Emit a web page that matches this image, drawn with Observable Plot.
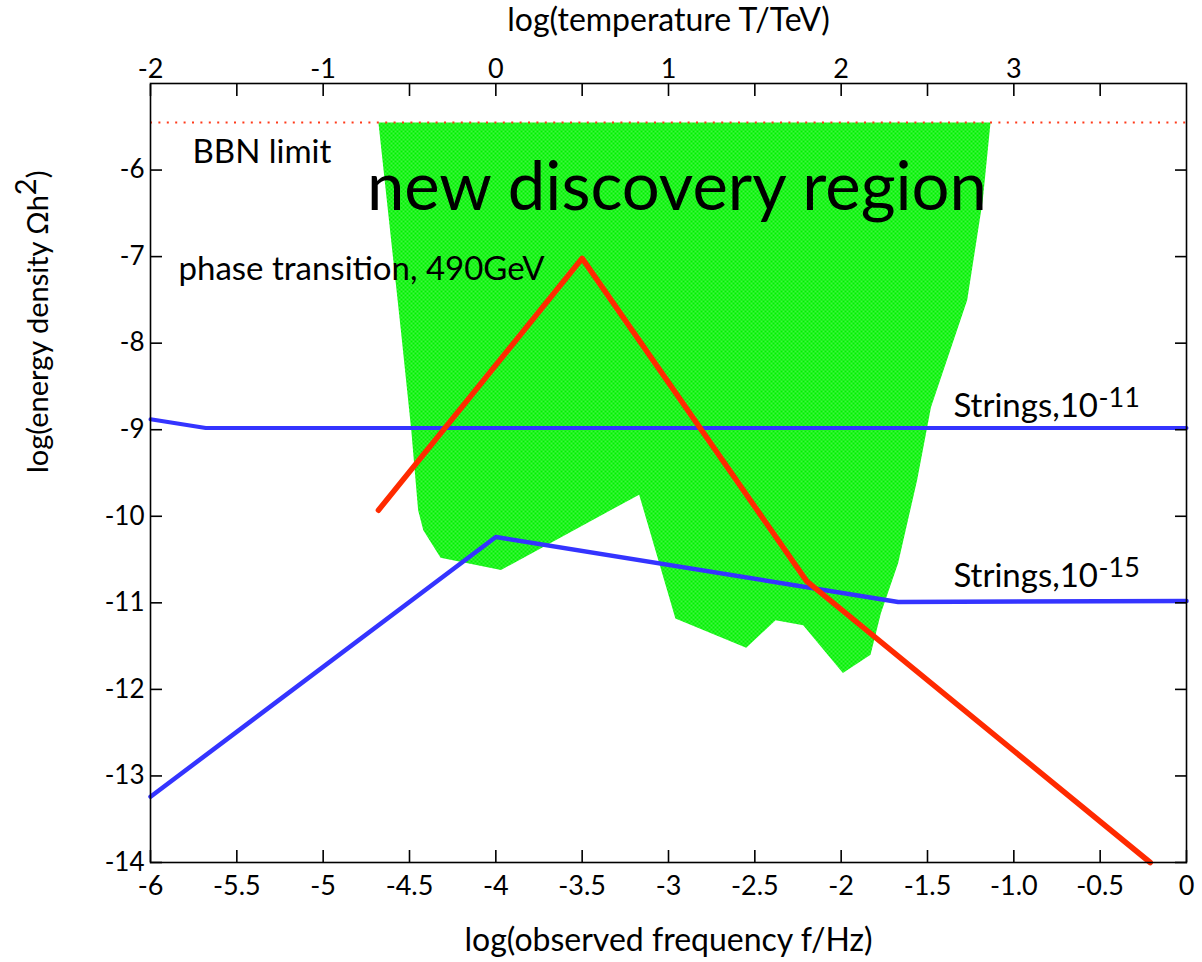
<!DOCTYPE html>
<html><head><meta charset="utf-8">
<script src="https://cdn.jsdelivr.net/npm/d3@7"></script>
<script src="https://cdn.jsdelivr.net/npm/@observablehq/plot@0.6"></script>
<style>
body{margin:0;background:#fff;}
#chart svg{display:block;}
</style>
</head><body><div id="chart"></div>
<script>
// ---- tick positions & labels ----
const freqTicks = [-6, -5.5, -5, -4.5, -4, -3.5, -3, -2.5, -2, -1.5, -1, -0.5, 0];
const freqTickLabels = ["-6", "-5.5", "-5", "-4.5", "-4", "-3.5", "-3", "-2.5", "-2", "-1.5", "-1.0", "-0.5", "0"];
const energyTicks = [-6, -7, -8, -9, -10, -11, -12, -13, -14];
const tempTicks = [-2, -1.5, -1, -0.5, 0, 0.5, 1, 1.5, 2, 2.5, 3, 3.5];
const tempTickLabels = ["-2", "", "-1", "", "0", "", "1", "", "2", "", "3", ""];
const tempOffset = 4; // log(T/TeV) = log(f/Hz) + 4 on this figure

// ---- series ----
const bbnLimit = -5.45;
const discoveryF = [-4.68, -4.55, -4.49, -4.45, -4.42, -4.32, -3.97, -3.17, -2.96, -2.55, -2.38, -2.22, -1.99, -1.83, -1.77, -1.67, -1.56, -1.48, -1.27, -1.18, -1.135];
const discoveryOmega = [-5.45, -7.85, -9.0, -9.93, -10.16, -10.48, -10.62, -9.75, -11.18, -11.52, -11.2, -11.26, -11.81, -11.6, -11.12, -10.54, -9.58, -8.74, -7.5, -6.35, -5.45];
const phaseF = [-4.68, -3.5, -2.2, -0.21];
const phaseOmega = [-9.93, -7.02, -10.75, -14];
const strings11F = [-6, -5.68, 0];
const strings11Omega = [-8.88, -8.98, -8.98];
const strings15F = [-6, -4.0, -1.67, 0];
const strings15Omega = [-13.24, -10.24, -10.99, -10.98];

const zipPts = (xs, ys) => xs.map((x, i) => ({x, y: ys[i]}));
const discovery = zipPts(discoveryF, discoveryOmega);
const phase = zipPts(phaseF, phaseOmega);
const s11 = zipPts(strings11F, strings11Omega);
const s15 = zipPts(strings15F, strings15Omega);

const FONT = "Lato, 'Open Sans', sans-serif";

const chart = Plot.plot({
  width: 1202,
  height: 962,
  marginLeft: 150,
  marginRight: 16,
  marginTop: 83,
  marginBottom: 100,
  x: {domain: [-6, 0]},
  y: {domain: [-14, -5]},
  style: {fontFamily: FONT, fontSize: "27px", color: "black", background: "white"},
  marks: [
    Plot.line(discovery, {x: "x", y: "y", fill: "url(#dots)", stroke: "none", curve: "linear"}),
    Plot.ruleY([bbnLimit], {stroke: "#ff3a1a", strokeWidth: 2, strokeDasharray: "2,6.4"}),
    Plot.line(s11, {x: "x", y: "y", stroke: "#3434ff", strokeWidth: 4}),
    Plot.line(s15, {x: "x", y: "y", stroke: "#3434ff", strokeWidth: 4.5}),
    Plot.line(phase, {x: "x", y: "y", stroke: "#ff2a00", strokeWidth: 5.5, strokeLinecap: "round"}),
    // annotations
    Plot.text(["BBN limit"], {x: -5.757, y: -5.92, text: d => d, textAnchor: "start", lineAnchor: "bottom", fontSize: 33}),
    Plot.text(["new discovery region"], {x: -2.951, y: -6.462, text: d => d, textAnchor: "middle", lineAnchor: "bottom", fontSize: 67}),
    Plot.text(["phase transition, 490GeV"], {x: -5.838, y: -7.271, text: d => d, textAnchor: "start", lineAnchor: "bottom", fontSize: 33}),
    Plot.text(["Strings,10"], {x: -1.35, y: -8.853, text: d => d, textAnchor: "start", lineAnchor: "bottom", fontSize: 33}),
    Plot.text(["-11"], {x: -0.51, y: -8.738, text: d => d, textAnchor: "start", lineAnchor: "bottom", fontSize: 27}),
    Plot.text(["Strings,10"], {x: -1.35, y: -10.817, text: d => d, textAnchor: "start", lineAnchor: "bottom", fontSize: 33}),
    Plot.text(["-15"], {x: -0.51, y: -10.702, text: d => d, textAnchor: "start", lineAnchor: "bottom", fontSize: 27}),
    // axis titles
    Plot.text(["log(observed frequency f/Hz)"], {frameAnchor: "bottom", dy: 78, text: d => d, lineAnchor: "middle", fontSize: 32}),
    Plot.text(["log(temperature T/TeV)"], {frameAnchor: "top", dy: -63, text: d => d, lineAnchor: "middle", fontSize: 32}),
    Plot.text(["log(energy density \u03A9h2)"], {frameAnchor: "left", dx: -112, rotate: -90, text: d => d, lineAnchor: "middle", fontSize: 29, className: "ylabel"}),
    Plot.frame({stroke: "black", strokeWidth: 1.6}),
    Plot.axisX({anchor: "bottom", ticks: freqTicks, tickSize: -12, tickPadding: 25, tickFormat: d => freqTickLabels[freqTicks.indexOf(d)], label: null, fontSize: 27, strokeWidth: 1.6}),
    Plot.axisX({anchor: "top", ticks: tempTicks.map(t => t - tempOffset), tickSize: -12, tickPadding: 18, tickFormat: d => tempTickLabels[tempTicks.indexOf(Math.round((d + tempOffset) * 2) / 2)], label: null, fontSize: 27, strokeWidth: 1.6}),
    Plot.axisY({anchor: "left", ticks: energyTicks, tickSize: -12, tickPadding: 18, tickFormat: d => String(d), label: null, fontSize: 26, strokeWidth: 1.6}),
    Plot.axisY({anchor: "right", ticks: energyTicks, tickSize: -12, tickPadding: 0, tickFormat: () => "", label: null, strokeWidth: 1.6})
  ]
});

// dotted green texture for the discovery region
const ns = "http://www.w3.org/2000/svg";
const defs = document.createElementNS(ns, "defs");
defs.innerHTML = `<pattern id="dots" width="4" height="4" patternUnits="userSpaceOnUse">
  <rect width="4" height="4" fill="#00f000"></rect>
  <circle cx="1" cy="1" r="0.75" fill="#9dff9d"></circle>
  <circle cx="3" cy="3" r="0.75" fill="#9dff9d"></circle>
</pattern>`;
chart.insertBefore(defs, chart.firstChild);

// raised "2" in the y-axis title
chart.querySelectorAll(".ylabel text").forEach(t => {
  const s = t.textContent;
  if (s.endsWith("h2)")) {
    t.textContent = s.slice(0, -2);
    const sup = document.createElementNS(ns, "tspan");
    sup.setAttribute("dy", "-0.4em");
    sup.textContent = "2";
    const close = document.createElementNS(ns, "tspan");
    close.setAttribute("dy", "0.4em");
    close.textContent = ")";
    t.appendChild(sup);
    t.appendChild(close);
  }
});
document.getElementById("chart").appendChild(chart);
</script>
</body></html>
